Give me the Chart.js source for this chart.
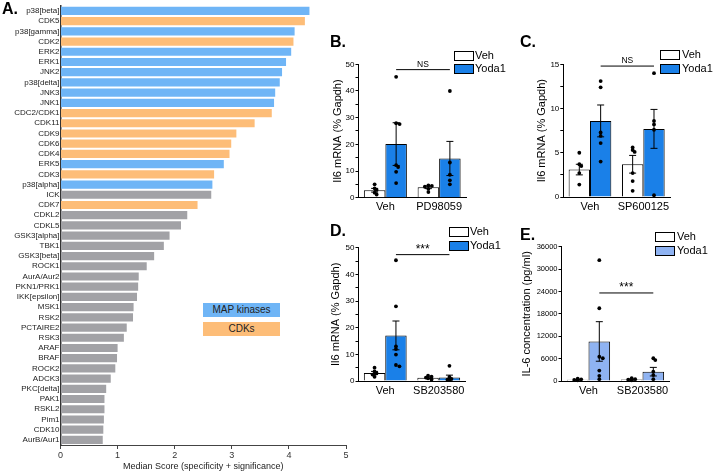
<!DOCTYPE html>
<html>
<head>
<meta charset="utf-8">
<script src="https://cdn.jsdelivr.net/npm/chart.js@4"></script>
<style>
  body { margin: 0; background: #fff; font-family: "Liberation Sans", Arial, sans-serif; }
  #wrap { position: relative; width: 713px; height: 474px; overflow: hidden; }
  canvas, .lbl, .box, .txt { position: absolute; }
  .lbl { font-weight: bold; font-size: 16px; color: #000; }
  .box { width: 18px; height: 8px; border: 1px solid #000; }
  .txt { font-size: 11px; color: #000; line-height: 11px; }
  .key { position: absolute; width: 77px; height: 14px; font-size: 10px; line-height: 14px; text-align: center; color: #222; }
</style>
</head>
<body>
<div id="wrap">
  <canvas id="chartA" width="360" height="474" style="left:0;top:0"></canvas>
  <canvas id="chartB" width="160" height="200" style="left:320px;top:30px"></canvas>
  <canvas id="chartC" width="193" height="200" style="left:520px;top:30px"></canvas>
  <canvas id="chartD" width="160" height="210" style="left:320px;top:200px"></canvas>
  <canvas id="chartE" width="200" height="210" style="left:513px;top:200px"></canvas>

  <div class="lbl" style="left:2px;top:0px">A.</div>
  <div class="lbl" style="left:330px;top:33px">B.</div>
  <div class="lbl" style="left:520px;top:33px">C.</div>
  <div class="lbl" style="left:330px;top:222px">D.</div>
  <div class="lbl" style="left:520px;top:226px">E.</div>

  <div class="key" style="left:203px;top:303px;background:#6fb5f6">MAP kinases</div>
  <div class="key" style="left:203px;top:322px;background:#fdbd78">CDKs</div>

  <div class="box" style="left:454px;top:51px;background:#fff"></div>
  <div class="txt" style="left:475px;top:50px">Veh</div>
  <div class="box" style="left:454px;top:64px;background:#1a80e8"></div>
  <div class="txt" style="left:475px;top:63px">Yoda1</div>

  <div class="box" style="left:660px;top:50px;background:#fff"></div>
  <div class="txt" style="left:682px;top:49px">Veh</div>
  <div class="box" style="left:660px;top:64px;background:#1a80e8"></div>
  <div class="txt" style="left:682px;top:63px">Yoda1</div>

  <div class="box" style="left:449px;top:227px;background:#fff"></div>
  <div class="txt" style="left:470px;top:226px">Veh</div>
  <div class="box" style="left:449px;top:241px;background:#1a80e8"></div>
  <div class="txt" style="left:470px;top:240px">Yoda1</div>

  <div class="box" style="left:655px;top:232px;background:#fff"></div>
  <div class="txt" style="left:677px;top:231px">Veh</div>
  <div class="box" style="left:655px;top:246px;background:#8fb3f2"></div>
  <div class="txt" style="left:677px;top:245px">Yoda1</div>
</div>

<script>
// Panel A: kinase ranking
const kinases = ['p38[beta]', 'CDK5', 'p38[gamma]', 'CDK2', 'ERK2', 'ERK1', 'JNK2', 'p38[delta]', 'JNK3', 'JNK1',
  'CDC2/CDK1', 'CDK11', 'CDK9', 'CDK6', 'CDK4', 'ERK5', 'CDK3', 'p38[alpha]', 'ICK', 'CDK7',
  'CDKL2', 'CDKL5', 'GSK3[alpha]', 'TBK1', 'GSK3[beta]', 'ROCK1', 'AurA/Aur2', 'PKN1/PRK1', 'IKK[epsilon]', 'MSK1',
  'RSK2', 'PCTAIRE2', 'RSK3', 'ARAF', 'BRAF', 'ROCK2', 'ADCK3', 'PKC[delta]', 'PAK1', 'RSKL2',
  'Pim1', 'CDK10', 'AurB/Aur1'];
const medianScores = [4.36, 4.28, 4.10, 4.08, 4.04, 3.95, 3.88, 3.84, 3.76, 3.74,
  3.70, 3.40, 3.08, 2.99, 2.96, 2.86, 2.69, 2.66, 2.64, 2.40,
  2.22, 2.11, 1.91, 1.81, 1.64, 1.51, 1.37, 1.36, 1.34, 1.28,
  1.27, 1.16, 1.11, 1.00, 0.99, 0.96, 0.88, 0.80, 0.77, 0.77,
  0.76, 0.75, 0.74];
const kinaseFamily = ['MAP', 'CDK', 'MAP', 'CDK', 'MAP', 'MAP', 'MAP', 'MAP', 'MAP', 'MAP',
  'CDK', 'CDK', 'CDK', 'CDK', 'CDK', 'MAP', 'CDK', 'MAP', 'other', 'CDK',
  'other', 'other', 'other', 'other', 'other', 'other', 'other', 'other', 'other', 'other',
  'other', 'other', 'other', 'other', 'other', 'other', 'other', 'other', 'other', 'other',
  'other', 'other', 'other'];
const scoreTicks = [0, 1, 2, 3, 4, 5];

// Panel B: PD98059
const bGroups = ['Veh', 'PD98059'];
const bVehMean = [2.8, 3.9];
const bVehSem = [0.7, 0.5];
const bYodaMean = [20.1, 14.7];
const bYodaSem = [8.0, 6.4];
const bVehPoints = [[5.0, 3.5, 2.9, 1.9, 1.2], [4.6, 4.4, 4.1, 3.3, 2.1]];
const bYodaPoints = [[45.3, 27.9, 27.6, 12.2, 11.5, 9.7, 5.5], [40.0, 13.2, 8.6, 6.5, 5.0]];

// Panel C: SP600125
const cGroups = ['Veh', 'SP600125'];
const cVehMean = [3.1, 3.7];
const cVehSem = [0.6, 1.0];
const cYodaMean = [8.6, 7.7];
const cYodaSem = [1.8, 2.2];
const cVehPoints = [[5.0, 3.7, 3.5, 2.7, 1.4], [5.6, 5.3, 5.1, 2.7, 1.8, 0.7]];
const cYodaPoints = [[13.1, 12.4, 7.3, 6.9, 6.1, 4.0], [14.0, 8.6, 8.2, 7.6, 0.2]];

// Panel D: SB203580, mRNA
const dGroups = ['Veh', 'SB203580'];
const dVehMean = [3.0, 1.2];
const dVehSem = [0.6, 0.3];
const dYodaMean = [17.1, 1.3];
const dYodaSem = [5.4, 0.9];
const dVehPoints = [[5.0, 3.6, 2.9, 2.4, 1.6], [2.0, 1.6, 1.3, 1.0, 0.6]];
const dYodaPoints = [[45.3, 28.0, 13.0, 12.0, 9.9, 6.0, 5.5], [5.7, 1.5, 0.8, 0.5, 0.3]];

// Panel E: SB203580, IL-6 protein
const eGroups = ['Veh', 'SB203580'];
const eVehMean = [350, 400];
const eVehSem = [80, 100];
const eYodaMean = [10600, 2500];
const eYodaSem = [5300, 1150];
const eVehPoints = [[600, 450, 300, 200], [750, 500, 350, 200]];
const eYodaPoints = [[32400, 19500, 6500, 6100, 2800, 1400, 500], [6100, 5600, 2500, 1600, 500]];

const FONT = '"Liberation Sans", Arial, sans-serif';
const familyColor = { MAP: '#6fb5f6', CDK: '#fdbd78', other: '#a2a2a6' };

new Chart(document.getElementById('chartA'), {
  type: 'bar',
  data: {
    labels: kinases,
    datasets: [{
      data: medianScores,
      backgroundColor: kinaseFamily.map(f => familyColor[f]),
      borderWidth: 0,
      categoryPercentage: 1,
      barPercentage: 0.8
    }]
  },
  options: {
    indexAxis: 'y',
    responsive: false,
    animation: false,
    layout: { padding: { left: 0, right: 14, top: 4, bottom: 0 } },
    plugins: { legend: { display: false }, tooltip: { enabled: false } },
    scales: {
      x: {
        min: 0, max: 5,
        afterBuildTicks: s => { s.ticks = scoreTicks.map(v => ({ value: v })); },
        ticks: { font: { family: FONT, size: 9 }, color: '#333', padding: 1 },
        grid: { drawOnChartArea: false, tickLength: 4, color: '#444' },
        border: { color: '#444', width: 1 },
        title: { display: true, text: 'Median Score (specificity + significance)', font: { family: FONT, size: 9 }, color: '#222', padding: { top: 0, bottom: 2 } },
        afterFit: s => { s.height = 29; }
      },
      y: {
        ticks: { font: { family: FONT, size: 8 }, color: '#222', padding: 1, autoSkip: false },
        grid: { drawOnChartArea: false, drawTicks: false },
        border: { color: '#333', width: 1.5 },
        afterFit: s => { s.width = 60.5; }
      }
    }
  }
});

// error bars, individual points and significance bar for panels B-E
const groupMarks = {
  id: 'groupMarks',
  afterDatasetsDraw(chart, args, opts) {
    const ctx = chart.ctx;
    const y = chart.scales.y;
    ctx.save();
    opts.series.forEach((s, di) => {
      const meta = chart.getDatasetMeta(di);
      meta.data.forEach((bar, i) => {
        const x = bar.x;
        const top = y.getPixelForValue(s.mean[i] + s.sem[i]);
        const bot = y.getPixelForValue(Math.max(0, s.mean[i] - s.sem[i]));
        ctx.strokeStyle = '#000';
        ctx.lineWidth = 1;
        ctx.beginPath();
        ctx.moveTo(x, top); ctx.lineTo(x, bot);
        ctx.moveTo(x - 3.5, top); ctx.lineTo(x + 3.5, top);
        ctx.moveTo(x - 3.5, bot); ctx.lineTo(x + 3.5, bot);
        ctx.stroke();
        const placed = [];
        ctx.fillStyle = '#000';
        s.points[i].forEach(v => {
          const py = y.getPixelForValue(v);
          let px = x;
          for (const off of [0, 2, -2, 3.5, -3.5]) {
            if (!placed.some(p => Math.hypot(p[0] - (x + off), p[1] - py) < 2.5)) { px = x + off; break; }
          }
          placed.push([px, py]);
          ctx.beginPath();
          ctx.arc(px, py, 1.9, 0, Math.PI * 2);
          ctx.fill();
        });
      });
    });
    const sig = opts.sig;
    const m = chart.getDatasetMeta(1);
    const x0 = m.data[0].x, x1 = m.data[1].x;
    const ly = y.getPixelForValue(sig.value);
    ctx.strokeStyle = '#000';
    ctx.lineWidth = 1;
    ctx.beginPath();
    ctx.moveTo(x0, ly); ctx.lineTo(x1, ly);
    ctx.stroke();
    ctx.font = sig.size + 'px ' + FONT;
    ctx.textAlign = 'center';
    ctx.textBaseline = 'alphabetic';
    ctx.fillText(sig.text, (x0 + x1) / 2, ly - sig.lift);
    ctx.restore();
  }
};

function makePanel(id, groups, vehMean, vehSem, vehPts, yodaMean, yodaSem, yodaPts, yodaColor, axis, box, sig) {
  new Chart(document.getElementById(id), {
    type: 'bar',
    data: {
      labels: groups,
      datasets: [
        { label: 'Veh', data: vehMean, backgroundColor: '#fff', borderColor: '#000', borderWidth: 1 },
        { label: 'Yoda1', data: yodaMean, backgroundColor: yodaColor, borderColor: '#000', borderWidth: 1 }
      ]
    },
    plugins: [groupMarks],
    options: {
      responsive: false,
      animation: false,
      datasets: { bar: { categoryPercentage: 0.8, barPercentage: 1 } },
      layout: { padding: { left: box.left, right: box.right, top: box.top, bottom: 0 } },
      plugins: {
        legend: { display: false },
        tooltip: { enabled: false },
        groupMarks: {
          series: [
            { mean: vehMean, sem: vehSem, points: vehPts },
            { mean: yodaMean, sem: yodaSem, points: yodaPts }
          ],
          sig: sig
        }
      },
      scales: {
        x: {
          ticks: { font: { family: FONT, size: 11 }, color: '#000', padding: 3, maxRotation: 0, minRotation: 0, autoSkip: false },
          grid: { drawOnChartArea: false, drawTicks: false },
          border: { color: '#000', width: 1 },
          afterFit: s => { s.height = box.xh; }
        },
        y: {
          min: 0, max: axis.max,
          ticks: {
            stepSize: axis.minor,
            font: { family: FONT, size: axis.font },
            color: '#000',
            padding: 1,
            callback: v => (v % axis.major === 0 ? v : '')
          },
          grid: { drawOnChartArea: false, tickLength: 3, color: '#000' },
          border: { color: '#000', width: 1 },
          title: { display: true, text: axis.title, font: { family: FONT, size: 11 }, color: '#000', padding: { top: 0, bottom: 0 } },
          afterFit: s => { s.width = box.yw; }
        }
      }
    }
  });
}

const mrnaTitle = 'Il6 mRNA (% Gapdh)';
makePanel('chartB', bGroups, bVehMean, bVehSem, bVehPoints, bYodaMean, bYodaSem, bYodaPoints, '#1a80e8',
  { max: 50, major: 10, minor: 5, font: 8, title: mrnaTitle },
  { left: 11.7, yw: 26.8, right: 14, top: 34.3, xh: 32.3 },
  { value: 48, text: 'NS', size: 8.5, lift: 3 });
makePanel('chartC', cGroups, cVehMean, cVehSem, cVehPoints, cYodaMean, cYodaSem, cYodaPoints, '#1a80e8',
  { max: 15, major: 5, minor: 2.5, font: 8, title: mrnaTitle },
  { left: 15.1, yw: 28.2, right: 43, top: 34.3, xh: 33 },
  { value: 14.8, text: 'NS', size: 8.5, lift: 3 });
makePanel('chartD', dGroups, dVehMean, dVehSem, dVehPoints, dYodaMean, dYodaSem, dYodaPoints, '#1a80e8',
  { max: 50, major: 10, minor: 5, font: 8, title: mrnaTitle },
  { left: 9.1, yw: 29.4, right: 14.5, top: 47.7, xh: 29 },
  { value: 47.4, text: '***', size: 12, lift: 2 });
makePanel('chartE', eGroups, eVehMean, eVehSem, eVehPoints, eYodaMean, eYodaSem, eYodaPoints, '#8fb3f2',
  { max: 36000, major: 6000, minor: 3000, font: 7.5, title: 'IL-6 concentration (pg/ml)' },
  { left: 7.7, yw: 40.8, right: 43.5, top: 46.7, xh: 29 },
  { value: 23600, text: '***', size: 12, lift: 2 });
</script>
</body>
</html>
